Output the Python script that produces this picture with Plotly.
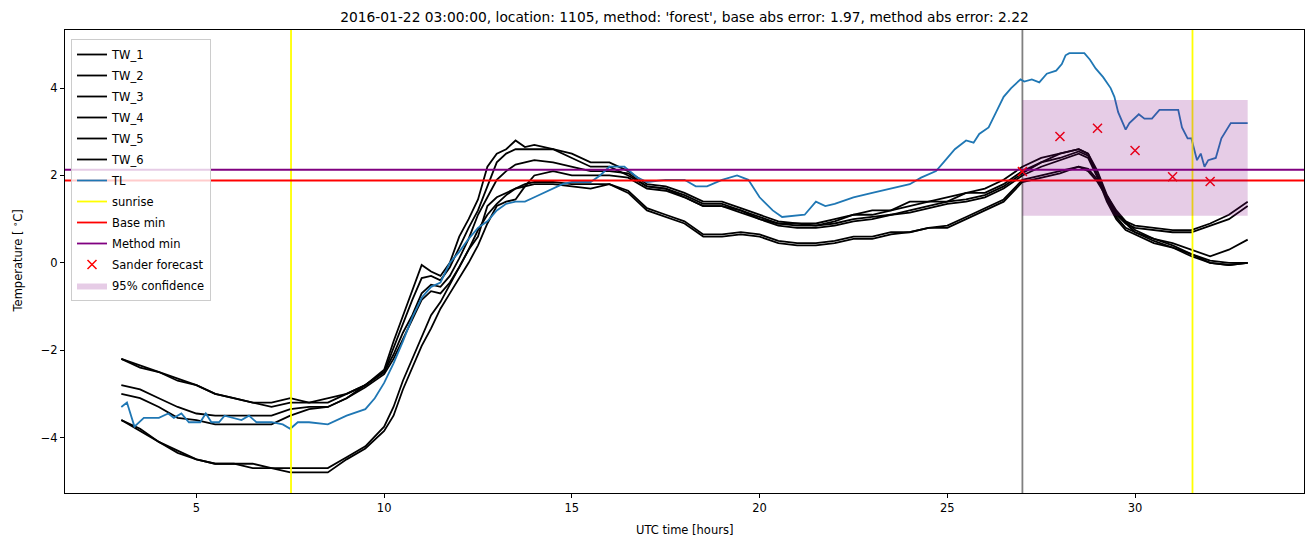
import plotly.graph_objects as go

# ---------------- data ----------------
t_tw = [3.0, 3.5, 4.0, 4.5, 5.0, 5.5, 6.0, 6.5, 7.0, 7.5, 8.0, 8.5, 9.0, 9.5, 10.0,
        10.25, 10.5, 10.75, 11.0, 11.25, 11.5, 11.75, 12.0, 12.25, 12.5, 12.75, 13.0, 13.25, 13.5, 13.75,
        14.0, 14.5, 15.0, 15.5, 16.0, 16.5, 17.0, 17.5, 18.0, 18.5, 19.0, 19.5, 20.0, 20.5, 21.0, 21.5,
        22.0, 22.5, 23.0, 23.5, 24.0, 24.5, 25.0, 25.5, 26.0, 26.5, 27.0, 27.5, 28.0, 28.5,
        28.75, 29.0, 29.25, 29.5, 29.75, 30.0, 30.5, 31.0, 31.5, 32.0, 32.5, 33.0]

tw_1 = [-2.2, -2.35, -2.5, -2.65, -2.8, -3.0, -3.1, -3.2, -3.2, -3.1, -3.2, -3.1, -3.0, -2.8, -2.45,
        -1.8, -1.2, -0.6, -0.05, -0.2, -0.3, 0.0, 0.6, 1.0, 1.45, 2.2, 2.5, 2.6, 2.8, 2.65,
        2.7, 2.6, 2.5, 2.3, 2.3, 2.1, 1.8, 1.75, 1.6, 1.4, 1.4, 1.25, 1.1, 0.95, 0.9, 0.9,
        1.0, 1.1, 1.2, 1.2, 1.4, 1.4, 1.5, 1.6, 1.7, 1.9, 2.2, 2.4, 2.5, 2.6,
        2.5, 2.1, 1.55, 1.15, 0.95, 0.85, 0.8, 0.75, 0.75, 0.9, 1.1, 1.4]
tw_2 = [-2.2, -2.4, -2.5, -2.7, -2.8, -3.0, -3.1, -3.2, -3.3, -3.2, -3.2, -3.2, -3.0, -2.8, -2.5,
        -1.95, -1.4, -0.85, -0.35, -0.3, -0.4, -0.1, 0.35, 0.8, 1.2, 1.75, 2.3, 2.5, 2.6, 2.6,
        2.6, 2.6, 2.4, 2.2, 2.2, 2.0, 1.75, 1.7, 1.55, 1.35, 1.35, 1.2, 1.05, 0.9, 0.9, 0.85,
        0.95, 1.1, 1.1, 1.2, 1.3, 1.4, 1.4, 1.6, 1.6, 1.8, 2.1, 2.3, 2.5, 2.6,
        2.5, 2.0, 1.5, 1.1, 0.9, 0.8, 0.75, 0.7, 0.7, 0.85, 1.0, 1.3]
tw_3 = [-2.8, -2.9, -3.1, -3.3, -3.45, -3.5, -3.5, -3.5, -3.5, -3.35, -3.3, -3.3, -3.1, -2.8, -2.5,
        -2.1, -1.6, -1.2, -0.7, -0.5, -0.55, -0.3, 0.1, 0.55, 1.1, 1.5, 1.9, 2.1, 2.25, 2.3,
        2.35, 2.3, 2.2, 2.1, 2.1, 2.05, 1.75, 1.7, 1.5, 1.3, 1.3, 1.2, 1.0, 0.9, 0.85, 0.85,
        0.9, 1.0, 1.05, 1.1, 1.2, 1.3, 1.4, 1.45, 1.55, 1.75, 2.05, 2.3, 2.4, 2.55,
        2.45, 2.0, 1.45, 1.05, 0.8, 0.7, 0.55, 0.45, 0.3, 0.15, 0.3, 0.53]
tw_4 = [-3.0, -3.1, -3.3, -3.55, -3.6, -3.7, -3.7, -3.7, -3.7, -3.5, -3.35, -3.3, -3.1, -2.85, -2.55,
        -2.2, -1.75, -1.3, -0.85, -0.65, -0.7, -0.45, -0.1, 0.3, 0.75, 1.1, 1.35, 1.55, 1.7, 1.75,
        2.0, 2.1, 2.0, 2.0, 2.0, 1.95, 1.7, 1.65, 1.5, 1.3, 1.3, 1.15, 1.0, 0.85, 0.8, 0.8,
        0.85, 0.95, 1.0, 1.1, 1.15, 1.25, 1.35, 1.4, 1.5, 1.7, 2.0, 2.2, 2.35, 2.5,
        2.4, 1.95, 1.4, 1.0, 0.75, 0.65, 0.45, 0.35, 0.2, 0.0, -0.05, 0.0]
tw_5 = [-3.6, -3.8, -4.1, -4.3, -4.5, -4.6, -4.6, -4.6, -4.7, -4.7, -4.7, -4.7, -4.45, -4.2, -3.75,
        -3.3, -2.7, -2.2, -1.7, -1.2, -0.9, -0.5, -0.1, 0.3, 0.6, 1.3, 1.5, 1.6, 1.7, 1.8,
        1.85, 1.85, 1.8, 1.8, 1.8, 1.65, 1.25, 1.1, 0.95, 0.65, 0.65, 0.7, 0.65, 0.5, 0.45, 0.45,
        0.5, 0.6, 0.6, 0.7, 0.7, 0.8, 0.85, 1.05, 1.25, 1.45, 1.9, 2.0, 2.1, 2.2,
        2.15, 1.9, 1.55, 1.2, 0.95, 0.75, 0.55, 0.4, 0.2, 0.05, 0.0, 0.0]
tw_6 = [-3.6, -3.85, -4.1, -4.35, -4.5, -4.6, -4.6, -4.7, -4.7, -4.8, -4.8, -4.8, -4.5, -4.25, -3.85,
        -3.5, -2.9, -2.4, -1.9, -1.5, -1.05, -0.7, -0.35, 0.0, 0.4, 0.9, 1.3, 1.4, 1.45, 1.75,
        1.8, 1.8, 1.75, 1.7, 1.8, 1.6, 1.2, 1.05, 0.9, 0.6, 0.6, 0.65, 0.6, 0.45, 0.4, 0.4,
        0.45, 0.55, 0.55, 0.65, 0.7, 0.8, 0.8, 1.0, 1.2, 1.4, 1.85, 1.95, 2.05, 2.2,
        2.1, 1.85, 1.5, 1.15, 0.9, 0.7, 0.5, 0.35, 0.15, 0.0, -0.05, 0.0]

t_tl = [3.0, 3.15, 3.35, 3.6, 4.0, 4.25, 4.4, 4.6, 4.8, 5.1, 5.25, 5.4, 5.6, 5.75, 6.2, 6.4, 6.6,
        7.0, 7.3, 7.5, 7.7, 8.0, 8.5, 9.0, 9.5, 9.75, 10.0, 10.25, 10.5, 10.75, 11.0, 11.25, 11.5,
        11.75, 12.0, 12.25, 12.5, 12.75, 13.0, 13.25, 13.5, 13.75, 14.0, 14.25, 14.5, 14.75, 15.0,
        15.5, 15.75, 16.0, 16.4, 16.75, 17.0, 17.5, 18.0, 18.3, 18.6, 19.0, 19.4, 19.7, 20.0,
        20.35, 20.6, 21.2, 21.5, 21.75, 22.0, 22.5, 23.0, 23.5, 24.0, 24.3, 24.7, 24.9, 25.2,
        25.5, 25.7, 25.85, 26.1, 26.3, 26.5, 26.7, 26.95, 27.05, 27.25, 27.45, 27.65, 27.9, 28.05,
        28.15, 28.25, 28.65, 28.8, 28.95, 29.15, 29.35, 29.45, 29.55, 29.75, 29.85, 30.1, 30.25,
        30.45, 30.65, 31.15, 31.25, 31.4, 31.5, 31.65, 31.75, 31.85, 31.95, 32.15, 32.3, 32.55, 33.0]
tl = [-3.3, -3.2, -3.75, -3.55, -3.55, -3.45, -3.55, -3.45, -3.65, -3.65, -3.45, -3.65, -3.65, -3.5, -3.6, -3.5, -3.65,
      -3.65, -3.7, -3.8, -3.65, -3.65, -3.7, -3.5, -3.35, -3.1, -2.75, -2.3, -1.8, -1.25, -0.8, -0.55, -0.45,
      0.0, 0.25, 0.55, 0.8, 0.95, 1.2, 1.35, 1.4, 1.4, 1.5, 1.6, 1.7, 1.8, 1.85,
      1.85, 2.0, 2.2, 2.2, 1.95, 1.85, 1.9, 1.9, 1.75, 1.75, 1.9, 2.0, 1.9, 1.5,
      1.2, 1.05, 1.1, 1.4, 1.3, 1.35, 1.5, 1.6, 1.7, 1.8, 1.95, 2.1, 2.3, 2.6,
      2.8, 2.75, 2.95, 3.1, 3.45, 3.8, 4.0, 4.2, 4.15, 4.2, 4.13, 4.33, 4.4, 4.55,
      4.75, 4.8, 4.8, 4.65, 4.45, 4.25, 4.0, 3.8, 3.45, 3.05, 3.2, 3.4, 3.3,
      3.3, 3.5, 3.5, 3.1, 2.85, 2.85, 2.35, 2.5, 2.2, 2.35, 2.4, 2.85, 3.2, 3.2]

sunrise = [7.52, 31.53]
forecast_start = 27.0
base_min = 1.885
method_min = 2.13
sander_t = [27, 28, 29, 30, 31, 32]
sander_v = [2.09, 2.89, 3.08, 2.57, 1.97, 1.86]
conf_t = [27.0, 33.0]
conf_lo = 1.08
conf_hi = 3.73

x_range = [1.5, 34.5]
y_range = [-5.27, 5.33]
x_ticks = [5, 10, 15, 20, 25, 30]
y_ticks = [-4, -2, 0, 2, 4]

title = "2016-01-22 03:00:00, location: 1105, method: 'forest', base abs error: 1.97, method abs error: 2.22"
x_title = "UTC time [hours]"
y_title = "Temperature [ <sup>∘</sup>C]"

# ---------------- figure ----------------
FONT = "DejaVu Sans"
W, H = 1313, 547
ML, MR, MT, MB = 65, 9, 30, 54
PW, PH = W - ML - MR, H - MT - MB
LW = 1.8

fig = go.Figure()

# forecast-start marker (no legend)
fig.add_trace(go.Scatter(x=[forecast_start, forecast_start], y=y_range, mode="lines",
                         line=dict(color="gray", width=LW), showlegend=False, hoverinfo="skip"))

for name, vals in [("TW_1", tw_1), ("TW_2", tw_2), ("TW_3", tw_3),
                   ("TW_4", tw_4), ("TW_5", tw_5), ("TW_6", tw_6)]:
    fig.add_trace(go.Scatter(x=t_tw, y=vals, mode="lines", name=name, legendgroup=name,
                             line=dict(color="black", width=LW)))

fig.add_trace(go.Scatter(x=t_tl, y=tl, mode="lines", name="TL", legendgroup="TL",
                         line=dict(color="#1f77b4", width=LW)))

sx, sy = [], []
for s in sunrise:
    sx += [s, s, None]
    sy += [y_range[0], y_range[1], None]
fig.add_trace(go.Scatter(x=sx, y=sy, mode="lines", name="sunrise", legendgroup="sunrise",
                         line=dict(color="yellow", width=LW)))

fig.add_trace(go.Scatter(x=x_range, y=[base_min, base_min], mode="lines", name="Base min",
                         legendgroup="base", line=dict(color="red", width=LW)))
fig.add_trace(go.Scatter(x=x_range, y=[method_min, method_min], mode="lines", name="Method min",
                         legendgroup="method", line=dict(color="purple", width=LW)))

fig.add_trace(go.Scatter(x=sander_t, y=sander_v, mode="markers", name="Sander forecast",
                         legendgroup="sander",
                         marker=dict(symbol="x-thin", size=9, line=dict(color="red", width=1.5),
                                     color="red")))

fig.add_trace(go.Scatter(x=[conf_t[0], conf_t[1], conf_t[1], conf_t[0], conf_t[0]],
                         y=[conf_lo, conf_lo, conf_hi, conf_hi, conf_lo],
                         mode="lines", fill="toself", fillcolor="rgba(128,0,128,0.2)",
                         line=dict(width=0, color="rgba(128,0,128,0)"),
                         name="95% confidence", legendgroup="conf"))

fig.update_layout(
    width=W, height=H,
    margin=dict(l=ML, r=MR, t=MT, b=MB, autoexpand=False),
    paper_bgcolor="white", plot_bgcolor="white",
    font=dict(family=FONT, size=11.5, color="black"),
    title=dict(text=title, x=0.5, xref="paper", y=1 - 17 / H, yref="container",
               xanchor="center", yanchor="middle", font=dict(size=13.8, family=FONT)),
    showlegend=True,
    legend=dict(x=6 / PW, y=1 - 9 / PH, xanchor="left", yanchor="top",
                bgcolor="rgba(255,255,255,0.8)", bordercolor="#cccccc", borderwidth=1,
                traceorder="grouped", tracegroupgap=2,
                font=dict(size=11.5, family=FONT)),
    annotations=[
        dict(text=x_title, xref="paper", yref="paper", x=0.5, y=-(530 - (MT + PH)) / PH,
             xanchor="center", yanchor="middle", showarrow=False, font=dict(size=11.5)),
        dict(text=y_title, xref="paper", yref="paper", x=-(ML - 18) / PW, y=0.5,
             xanchor="center", yanchor="middle", showarrow=False, textangle=-90,
             font=dict(size=11.5)),
    ],
)
fig.update_xaxes(range=x_range, tickvals=x_ticks, showgrid=False, zeroline=False, automargin=False,
                 showline=True, mirror=True, linecolor="black", linewidth=1,
                 ticks="outside", ticklen=4, tickcolor="black")
fig.update_yaxes(range=y_range, tickvals=y_ticks, showgrid=False, zeroline=False, automargin=False,
                 showline=True, mirror=True, linecolor="black", linewidth=1,
                 ticks="outside", ticklen=4, tickcolor="black")

fig.write_html("out.html", config={"displayModeBar": False},
               post_script="document.body.style.margin='0';document.body.style.padding='0';")
